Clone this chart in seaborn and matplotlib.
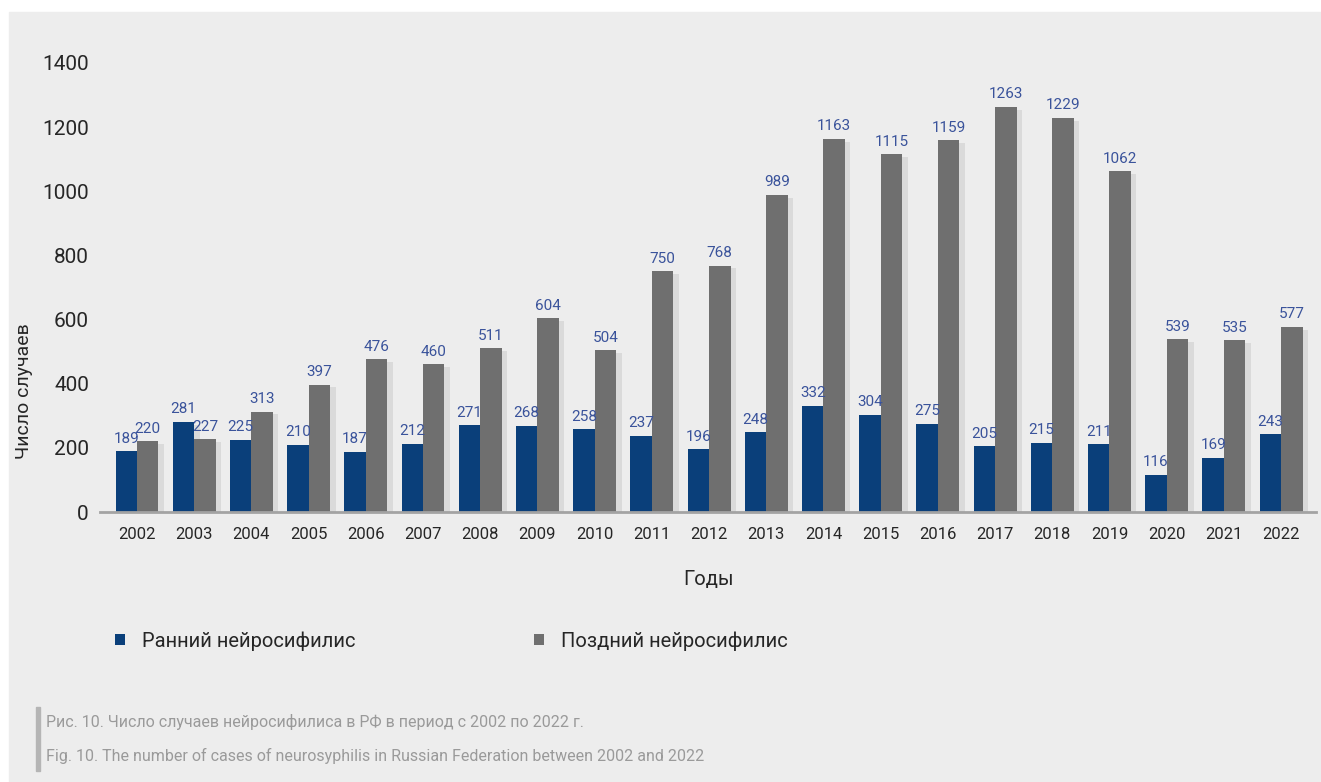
import matplotlib
matplotlib.use("Agg")
import matplotlib.pyplot as plt
import matplotlib.patheffects as pe
from matplotlib.patches import Rectangle
import seaborn as sns
import pandas as pd

years = [str(y) for y in range(2002, 2023)]
early = [189, 281, 225, 210, 187, 212, 271, 268, 258, 237, 196,
         248, 332, 304, 275, 205, 215, 211, 116, 169, 243]
late = [220, 227, 313, 397, 476, 460, 511, 604, 504, 750, 768,
        989, 1163, 1115, 1159, 1263, 1229, 1062, 539, 535, 577]
series_names = ["Ранний нейросифилис", "Поздний нейросифилис"]
y_ticks = [0, 200, 400, 600, 800, 1000, 1200, 1400]

df = pd.DataFrame({
    "year": years * 2,
    "value": early + late,
    "series": [series_names[0]] * len(years) + [series_names[1]] * len(years),
})

sns.set_theme(style="white")
plt.rcParams["font.family"] = ["Roboto", "DejaVu Sans"]

BG = "#ededed"
BLUE = "#0a3f7a"
GRAY = "#6f6f6f"
LABEL = "#3a539b"

fig = plt.figure(figsize=(13.21, 7.82), dpi=100, facecolor="white")
fig.patches.append(Rectangle((9 / 1321, 0), 1 - 9 / 1321, 1 - 12 / 782,
                             transform=fig.transFigure, color=BG, zorder=-5))

ax = fig.add_axes([100 / 1321, 270 / 782, 1216 / 1321, 449 / 782])
ax.set_facecolor("none")

sns.barplot(data=df, x="year", y="value", hue="series", palette=[BLUE, GRAY],
            width=0.75, gap=0, saturation=1, linewidth=0, ax=ax)

# soft drop shadow like the original
shadow = [pe.SimplePatchShadow(offset=(4, -2), shadow_rgbFace="#000000", alpha=0.08), pe.Normal()]
for cont in ax.containers:
    for bar in cont:
        bar.set_path_effects(shadow)
    ax.bar_label(cont, padding=4, fontsize=11, color=LABEL)

ax.set_ylim(0, 1400)
ax.set_xlim(-0.647, 20.61)
ax.set_yticks(y_ticks)
ax.tick_params(axis="y", labelsize=15, pad=8, length=0)
ax.tick_params(axis="x", labelsize=12, pad=11, length=0)
for s in ["top", "right", "left"]:
    ax.spines[s].set_visible(False)
ax.spines["bottom"].set_color("#a3a3a3")
ax.spines["bottom"].set_linewidth(2)

ax.set_xlabel("Годы", fontsize=14.5, labelpad=20)
ax.set_ylabel("Число случаев", fontsize=14)
ax.yaxis.set_label_coords(33 / 1321, 0.5, transform=fig.transFigure)

sns.move_legend(ax, "upper left", bbox_to_anchor=(97 / 1321, 1 - 613 / 782),
                bbox_transform=fig.transFigure, ncol=2, frameon=False, title=None,
                fontsize=14.5, handlelength=0.5, handleheight=0.5,
                handletextpad=0.85, columnspacing=8.85)

fig.patches.append(Rectangle((36 / 1321, 1 - 771 / 782), 4 / 1321, 64 / 782,
                             transform=fig.transFigure, color="#b5b5b5", zorder=1))
fig.text(46 / 1321, 1 - 722 / 782, "Рис. 10. Число случаев нейросифилиса в РФ в период с 2002 по 2022 г.",
         fontsize=11.5, color="#9a9a9a", va="center")
fig.text(46 / 1321, 1 - 756 / 782, "Fig. 10. The number of cases of neurosyphilis in Russian Federation between 2002 and 2022",
         fontsize=11.5, color="#9a9a9a", va="center")

fig.savefig("out.png", dpi=100, facecolor="white")
